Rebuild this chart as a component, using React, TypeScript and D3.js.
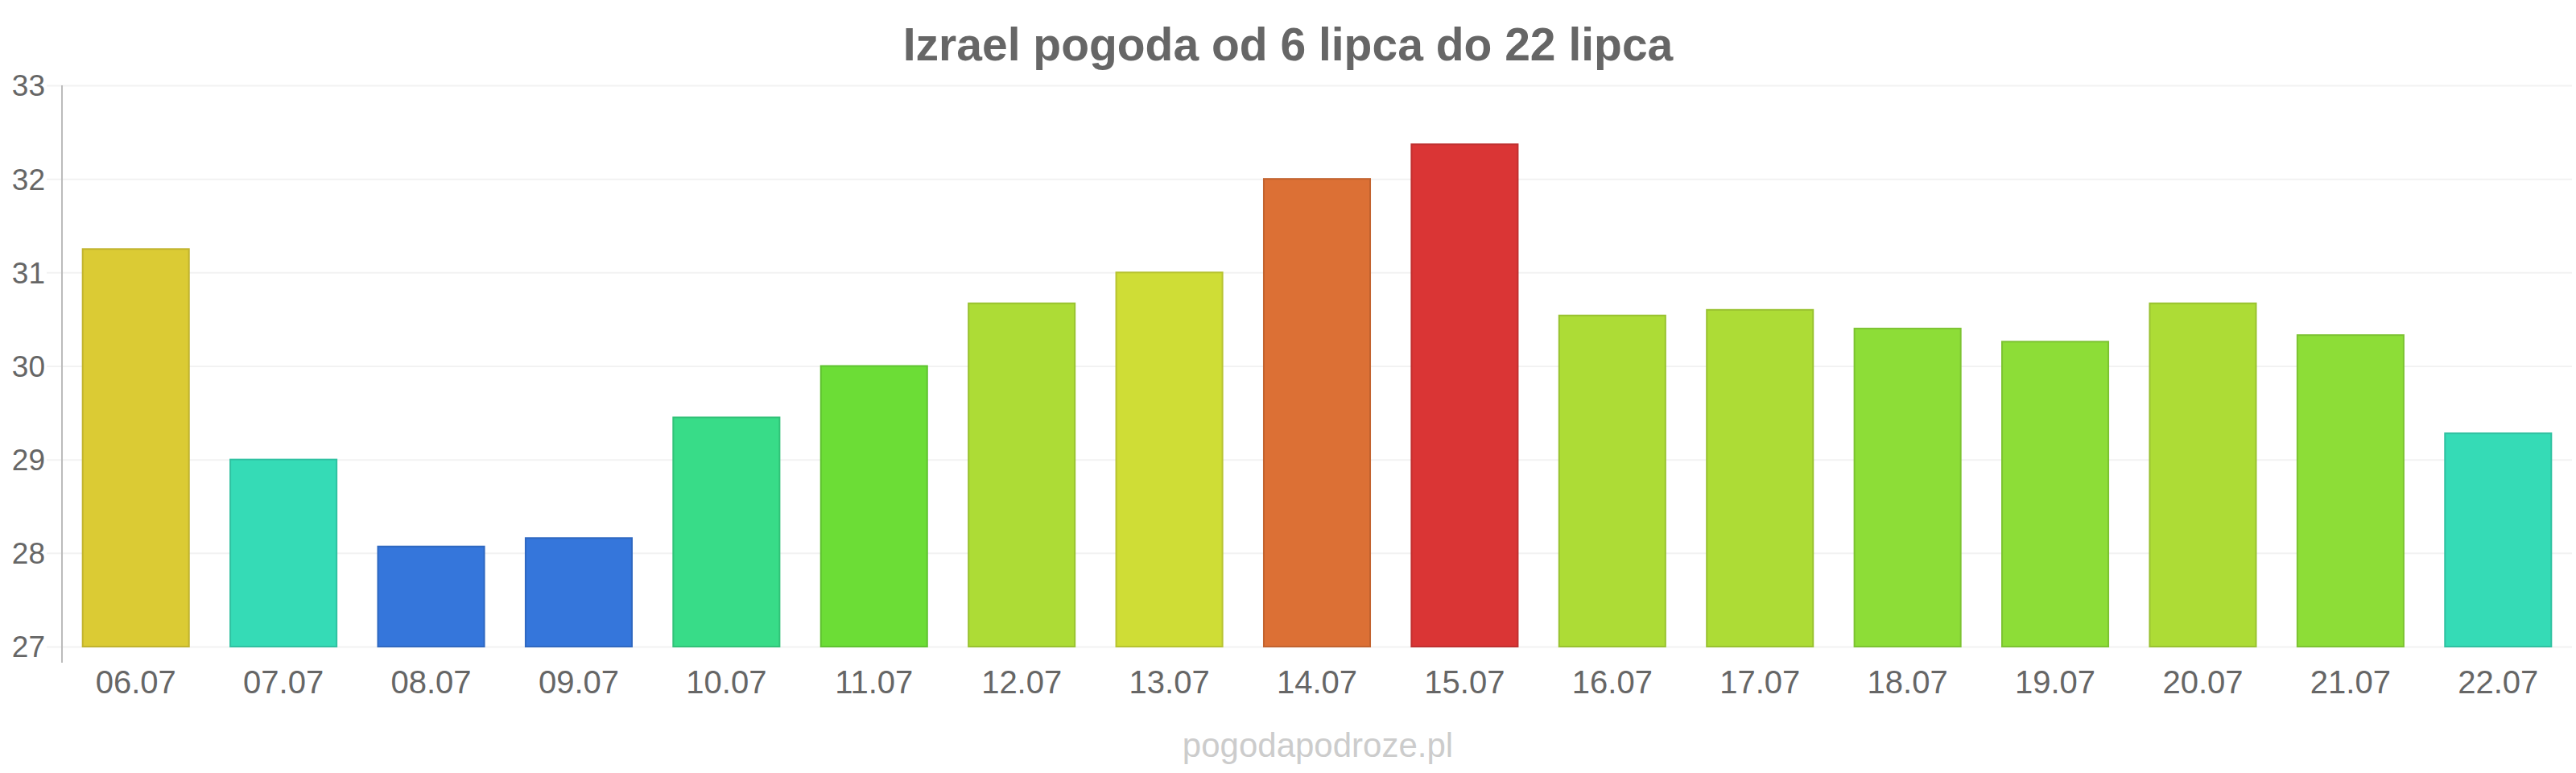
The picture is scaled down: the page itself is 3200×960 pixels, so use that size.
import React, { useEffect, useRef } from 'react';
import * as d3 from 'd3';

// daily temperatures, 6-22 July
const days = ['06.07', '07.07', '08.07', '09.07', '10.07', '11.07', '12.07', '13.07', '14.07',
    '15.07', '16.07', '17.07', '18.07', '19.07', '20.07', '21.07', '22.07'];
const temps = [31.25, 29.0, 28.07, 28.16, 29.45, 30.0, 30.67, 31.0, 32.0,
    32.37, 30.54, 30.6, 30.4, 30.26, 30.67, 30.33, 29.28];
const barColors = ['#dbcb34', '#35dbb6', '#3576db', '#3576db', '#38dc88', '#6cdd36', '#addc36', '#cfdd36', '#dc7035',
    '#da3535', '#addc36', '#addc36', '#8ddd37', '#8ddd37', '#addc36', '#8ddd37', '#35dbb6'];
const yTicks = [27, 28, 29, 30, 31, 32, 33];

const title = 'Izrael pogoda od 6 lipca do 22 lipca';
const credit = 'pogodapodroze.pl';

const W = 3200, H = 960;
const FONT = '"Liberation Sans", Arial, sans-serif';

function App() {
    const chartRef = useRef(null);

    useEffect(function () {
        if (!chartRef.current) return;
        const svg = d3.select(chartRef.current);
        svg.selectAll('*').remove();

        const plotLeft = 77, plotRight = 3195, plotTop = 106, plotBottom = 803;

        const x = d3.scaleBand()
            .domain(days)
            .range([plotLeft, plotRight])
            .paddingInner(0.28)
            .paddingOuter(0.14);

        const y = d3.scaleLinear()
            .domain([27, 33])
            .range([plotBottom, plotTop]);

        svg.append('rect').attr('width', W).attr('height', H).attr('fill', '#ffffff');

        // title
        svg.append('text')
            .attr('x', W / 2)
            .attr('y', 75)
            .attr('text-anchor', 'middle')
            .style('font-family', FONT)
            .style('font-size', '57px')
            .style('font-weight', 'bold')
            .attr('fill', '#666666')
            .text(title);

        // horizontal grid + y labels
        const yAxis = d3.axisLeft(y)
            .tickValues(yTicks)
            .tickSize(-(plotRight - 58))
            .tickPadding(0)
            .tickFormat(d3.format('d'));

        const gy = svg.append('g')
            .attr('transform', 'translate(' + plotRight + ',0)')
            .call(yAxis);
        gy.select('.domain').remove();
        gy.selectAll('.tick line')
            .attr('x1', 0)
            .attr('x2', -(plotRight - 58))
            .attr('stroke', '#f2f2f2')
            .attr('stroke-width', 2);
        gy.selectAll('.tick text')
            .attr('x', 56 - plotRight)
            .attr('dy', '0.35em')
            .attr('text-anchor', 'end')
            .attr('fill', '#666666')
            .style('font-family', FONT)
            .style('font-size', '37px');

        // bars
        svg.append('g')
            .selectAll('rect')
            .data(temps)
            .join('rect')
            .attr('x', (d, i) => x(days[i]))
            .attr('y', d => y(d))
            .attr('width', x.bandwidth())
            .attr('height', d => y(27) - y(d))
            .attr('fill', (d, i) => barColors[i])
            .attr('stroke', (d, i) => d3.color(barColors[i]).darker(0.35).formatHex())
            .attr('stroke-width', 2);

        // left axis line
        svg.append('line')
            .attr('x1', plotLeft).attr('x2', plotLeft)
            .attr('y1', plotTop).attr('y2', plotBottom + 20)
            .attr('stroke', '#bbbbbb')
            .attr('stroke-width', 2);

        // x labels
        const gx = svg.append('g')
            .attr('transform', 'translate(0,' + plotBottom + ')')
            .call(d3.axisBottom(x).tickSize(0).tickPadding(0));
        gx.select('.domain').remove();
        gx.selectAll('.tick text')
            .attr('y', 58)
            .attr('dy', 0)
            .attr('fill', '#666666')
            .style('font-family', FONT)
            .style('font-size', '40px');

        // credit line
        svg.append('text')
            .attr('x', 1637)
            .attr('y', 940)
            .attr('text-anchor', 'middle')
            .style('font-family', FONT)
            .style('font-size', '42px')
            .attr('fill', '#cccccc')
            .text(credit);
    });

    return (
        <div style={{ position: 'absolute', left: 0, top: 0 }}>
            <svg ref={chartRef} width={W} height={H} style={{ display: 'block' }}></svg>
        </div>
    );
}

export default App;
